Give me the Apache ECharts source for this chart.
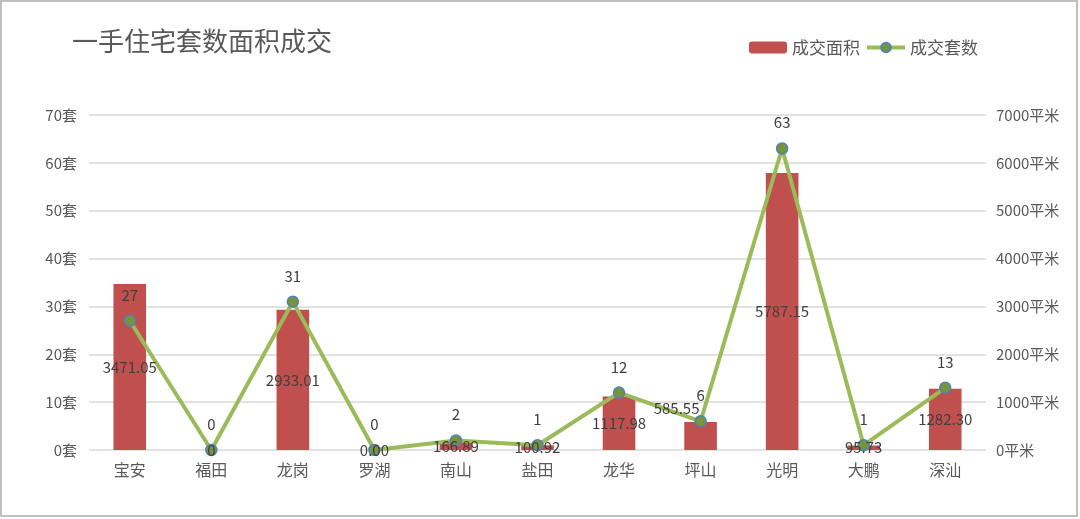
<!DOCTYPE html>
<html>
<head>
<meta charset="UTF-8">
<title>一手住宅套数面积成交</title>
<script src="https://cdn.jsdelivr.net/npm/echarts@6/dist/echarts.min.js"></script>
<style>
html, body { margin:0; padding:0; background:#fff; }
#container { width:1080px; height:519px; }
</style>
</head>
<body>
	<div id="container"></div>
	<script type="text/javascript">
	var categories = ['宝安', '福田', '龙岗', '罗湖', '南山', '盐田', '龙华', '坪山', '光明', '大鹏', '深汕'];
	var areaValues = [3471.05, 0, 2933.01, 0, 166.89, 100.92, 1117.98, 585.55, 5787.15, 95.73, 1282.30];
	var areaLabels = ['3471.05', '0', '2933.01', '0.00', '166.89', '100.92', '1117.98', '585.55', '5787.15', '95.73', '1282.30'];
	var countValues = [27, 0, 31, 0, 2, 1, 12, 6, 63, 1, 13];
	var leftTicks = [0, 70, 10];      // min, max, interval (套)
	var rightTicks = [0, 7000, 1000]; // min, max, interval (平米)

	var font = 'Noto Sans CJK SC';
	var textColor = '#595959';

	// 坪山的面积标签在原图中被挪到左上方
	var labelData = [];
	for (var i = 0; i < areaValues.length; i++) {
		var item = { value: areaValues[i] };
		if (categories[i] == '坪山') {
			item.label = { offset: [-24, -28] };
		}
		labelData.push(item);
	}

	var dom = document.getElementById("container");
	var myChart = echarts.init(dom);
	var option = {
		backgroundColor: '#fff',
		textStyle: { fontFamily: font },
		graphic: [{
			type: 'rect',
			shape: { x: 1, y: 1, width: 1076, height: 515 },
			style: { fill: 'none', stroke: '#BFBFBF', lineWidth: 2 },
			silent: true
		}],
		title: {
			text: '一手住宅套数面积成交',
			left: 67,
			top: 23,
			textStyle: { fontFamily: font, fontSize: 26, fontWeight: 'normal', color: textColor }
		},
		legend: {
			right: 97,
			top: 34,
			itemGap: 5,
			itemWidth: 38,
			itemHeight: 12,
			lineStyle: { width: 4 },
			textStyle: { fontFamily: font, fontSize: 17, color: textColor },
			data: ['成交面积', '成交套数']
		},
		grid: { left: 89, right: 94, top: 115, bottom: 69 },
		xAxis: [{
			type: 'category',
			data: categories,
			axisLine: { show: false },
			axisTick: { show: false },
			axisLabel: { fontFamily: font, fontSize: 16, color: textColor, margin: 12 }
		}],
		yAxis: [
			{
				type: 'value',
				min: leftTicks[0], max: leftTicks[1], interval: leftTicks[2],
				axisLine: { show: false },
				axisTick: { show: false },
				splitLine: { lineStyle: { color: '#D9D9D9', width: 1.5 } },
				axisLabel: {
					formatter: function (v) { return v + '套'; },
					fontFamily: font, fontSize: 15, color: textColor, margin: 12
				}
			},
			{
				type: 'value',
				min: rightTicks[0], max: rightTicks[1], interval: rightTicks[2],
				axisLine: { show: false },
				axisTick: { show: false },
				splitLine: { show: false },
				axisLabel: {
					formatter: function (v) { return v + '平米'; },
					fontFamily: font, fontSize: 15, color: textColor, margin: 10
				}
			}
		],
		series: [
			{
				name: '成交面积',
				type: 'bar',
				yAxisIndex: 1,
				barWidth: '40%',
				itemStyle: { color: '#C0504D' },
				z: 2,
				data: areaValues
			},
			{
				name: '成交套数',
				type: 'line',
				yAxisIndex: 0,
				symbol: 'circle',
				symbolSize: 11,
				lineStyle: { color: '#9BBB59', width: 4 },
				itemStyle: { color: '#77933C', borderColor: '#4F81BD', borderWidth: 1.5 },
				label: {
					show: true,
					position: 'top',
					distance: 12,
					color: '#404040',
					fontFamily: font,
					fontSize: 15
				},
				z: 3,
				data: countValues
			},
			{
				// 面积数据标签，叠在折线上面
				name: '面积标签',
				type: 'bar',
				yAxisIndex: 1,
				barWidth: '40%',
				barGap: '-100%',
				silent: true,
				itemStyle: { color: 'rgba(0,0,0,0)' },
				label: {
					show: true,
					position: 'inside',
					color: '#404040',
					fontFamily: font,
					fontSize: 15,
					formatter: function (p) { return areaLabels[p.dataIndex]; }
				},
				z: 4,
				data: labelData
			}
		]
	};
	myChart.setOption(option);
    </script>
</body>
</html>
